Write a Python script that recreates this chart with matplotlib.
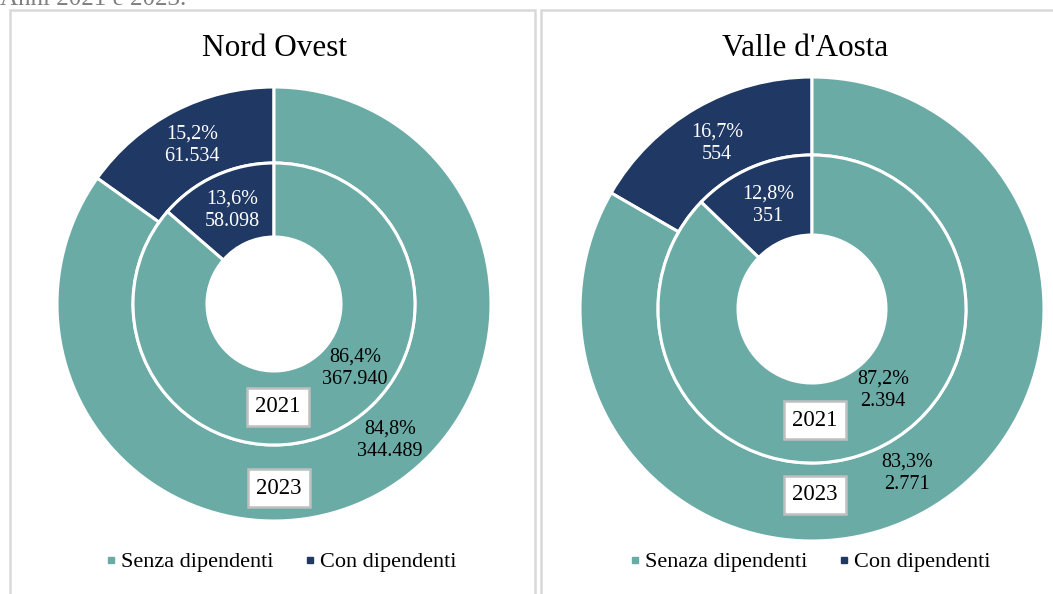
import matplotlib
matplotlib.use("Agg")
from matplotlib import pyplot as plt
from matplotlib.patches import Rectangle
from matplotlib.lines import Line2D

plt.rcParams['font.family'] = ['Liberation Serif', 'DejaVu Serif']

# data
categories = ["Con dipendenti", "Senza dipendenti"]
legend_right = ["Senaza dipendenti", "Con dipendenti"]
nord_2021 = [58098, 367940]
nord_2023 = [61534, 344489]
nord_pct_2021 = ["13,6%", "86,4%"]
nord_pct_2023 = ["15,2%", "84,8%"]
nord_lab_2021 = ["58.098", "367.940"]
nord_lab_2023 = ["61.534", "344.489"]
vda_2021 = [351, 2394]
vda_2023 = [554, 2771]
vda_pct_2021 = ["12,8%", "87,2%"]
vda_pct_2023 = ["16,7%", "83,3%"]
vda_lab_2021 = ["351", "2.394"]
vda_lab_2023 = ["554", "2.771"]

NAVY = "#203864"
TEAL = "#6AABA5"
colors = [NAVY, TEAL]
W, H = 1053, 594

fig = plt.figure(figsize=(W / 100, H / 100), dpi=100)
ax = fig.add_axes([0, 0, 1, 1])


def Y(y):
    return H - y


def donut(cx, cy, r_out, r_mid, r_hole, v_in, v_out):
    ax.pie(v_out, colors=colors, startangle=90, counterclock=True,
           center=(cx, Y(cy)), radius=r_out,
           wedgeprops=dict(width=r_out - r_mid, edgecolor="white", linewidth=2.2))
    ax.pie(v_in, colors=colors, startangle=90, counterclock=True,
           center=(cx, Y(cy)), radius=r_mid,
           wedgeprops=dict(width=r_mid - r_hole, edgecolor="white", linewidth=2.2))


def label(x, y, pct, val, color):
    ax.text(x, Y(y), pct + "\n" + val, ha="center", va="center", fontsize=14.5,
            color=color, linespacing=1.25)


def year_box(x, y, txt):
    ax.text(x, Y(y), txt, ha="center", va="center", fontsize=16.5, color="black",
            bbox=dict(boxstyle="square,pad=0.36", fc="white", ec="#BFBFBF", lw=1.8))


# panel frames
ax.add_patch(Rectangle((10, Y(620)), 525, 610, fill=False, ec="#D9D9D9", lw=1.8, clip_on=False))
ax.add_patch(Rectangle((541, Y(620)), 530, 610, fill=False, ec="#D9D9D9", lw=1.8, clip_on=False))

# Nord Ovest
donut(274, 304, 217, 141, 67, nord_2021, nord_2023)
ax.text(275, Y(48), "Nord Ovest", ha="center", va="center", fontsize=22.5)
label(192, 145, nord_pct_2023[0], nord_lab_2023[0], "white")
label(232, 210, nord_pct_2021[0], nord_lab_2021[0], "white")
label(355, 368, nord_pct_2021[1], nord_lab_2021[1], "black")
label(390, 440, nord_pct_2023[1], nord_lab_2023[1], "black")
year_box(278, 407, "2021")
year_box(279, 488, "2023")

# Valle d'Aosta
donut(812, 309, 232, 154, 74, vda_2021, vda_2023)
ax.text(805, Y(48), "Valle d'Aosta", ha="center", va="center", fontsize=22.5)
label(717, 143, vda_pct_2023[0], vda_lab_2023[0], "white")
label(768, 205, vda_pct_2021[0], vda_lab_2021[0], "white")
label(883, 390, vda_pct_2021[1], vda_lab_2021[1], "black")
label(907, 473, vda_pct_2023[1], vda_lab_2023[1], "black")
year_box(815, 420, "2021")
year_box(815, 495, "2023")

# caption of the page, cut off at the top as in the original
ax.text(0, Y(5), "Anni 2021 e 2023.", ha="left", va="baseline", fontsize=18, color="#7F7F7F")

ax.set_xlim(0, W)
ax.set_ylim(0, H)
ax.set_aspect("auto")
ax.axis("off")


def legend(xc, names):
    handles = [Line2D([], [], marker="s", ls="none", color=TEAL, markersize=5),
               Line2D([], [], marker="s", ls="none", color=NAVY, markersize=5)]
    fig.legend(handles, names, loc="center", bbox_to_anchor=(xc / W, Y(562) / H),
               ncol=2, frameon=False, fontsize=16, handletextpad=0.2,
               columnspacing=1.4, handlelength=0.5)


legend(281, [categories[1], categories[0]])
legend(810, legend_right)

fig.savefig("out.png", dpi=100)
